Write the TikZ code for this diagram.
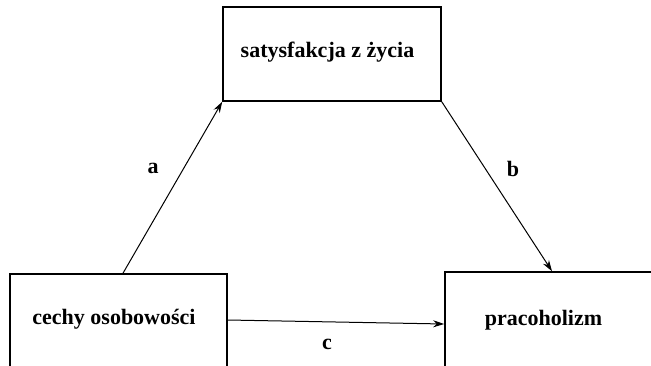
\documentclass[tikz,border=0pt]{standalone}
\usepackage{fontspec}
\setmainfont{Liberation Serif}
\usetikzlibrary{arrows.meta}
\begin{document}
\begin{tikzpicture}[x=1pt,y=-1pt,
  box/.style={draw=black,line width=1.6pt,inner sep=0pt},
  txt/.style={anchor=base,inner sep=0pt,font=\fontsize{22}{26}\selectfont\bfseries},
  link/.style={draw=black,line width=1pt,-{Stealth[length=11pt,width=7pt]}}]
\useasboundingbox (0,0) rectangle (651,365);
\clip (0,0) rectangle (651,365);
\fill[white] (0,0) rectangle (651,365);
% the three variables of the mediation model
\node[box,minimum width=218pt,minimum height=94pt] (tb) at (332,54) {};
\node[box,minimum width=217pt,minimum height=110pt] (lb) at (118.5,329) {};
\node[box,minimum width=240pt,minimum height=110pt] (rb) at (565,327) {};
\node[txt] (tt) at (327.5,57) {satysfakcja z życia};
\node[txt] (lt) at (114,324) {cechy osobowości};
\node[txt] (rt) at (543.5,325) {pracoholizm};
% paths a, b and c
\coordinate (as) at (123,272);
\coordinate (be) at (552,272);
\draw[link] (lb.north -| as) -- (tb.south west);
\draw[link] (tb.south east) -- (rb.north -| be);
\draw[link] (lb.east |- 0,320) -- (rb.west |- 0,324);
\node[txt] (la) at (153,173) {a};
\node[txt] (lbb) at (513,176) {b};
\node[txt] (lc) at (327,349) {c};
\end{tikzpicture}
\end{document}
